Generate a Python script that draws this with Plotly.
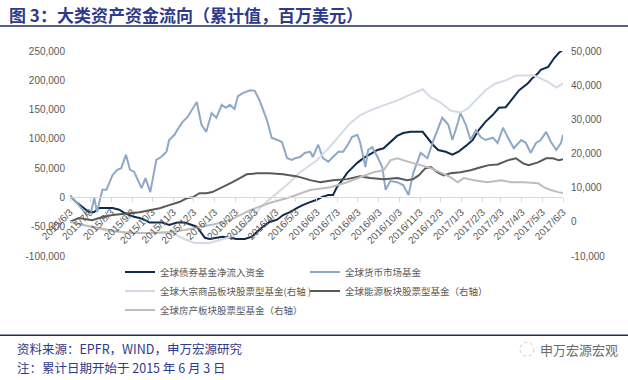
import plotly.graph_objects as go
import pandas as pd

START = pd.Timestamp("2015-06-03")

# ---------------- data (days since 2015-06-03, cumulative value) ----------------
bond_days = [0, 9, 18, 28, 36, 43, 54, 63, 73, 80, 88, 95, 103, 110, 118, 128, 137, 147, 159, 170,
             180, 188, 195, 200, 207, 217, 226, 237, 247, 259, 270, 277, 286, 296, 307, 316, 326, 337,
             345, 356, 366, 374, 383, 390, 396, 404, 411, 418, 426, 435, 445, 456, 465, 475, 485, 494,
             505, 523, 530, 538, 546, 557, 567, 576, 587, 597, 606, 616, 627, 636, 646, 657, 666, 679,
             686, 694, 698, 709, 718, 725, 731]
bond_vals = [3000, -8000, -16000, -25000, -25000, -18000, -18000, -18000, -21000, -26000, -30000,
             -33000, -35000, -38000, -43000, -43000, -43000, -47000, -43000, -43000, -47000, -50000,
             -61000, -69000, -71000, -69000, -67000, -69000, -71000, -71000, -67000, -59000, -50000,
             -42000, -38000, -30000, -25000, -18000, -13000, -8000, -4000, 1000, 4000, 4000, 18000,
             30000, 42000, 50000, 59000, 67000, 74000, 81000, 84000, 95000, 105000, 110000, 112000,
             112000, 102000, 90000, 81000, 78000, 73000, 78000, 88000, 98000, 115000, 129000, 141000,
             153000, 154000, 170000, 183000, 195000, 204000, 212000, 218000, 223000, 238000, 247000,
             252000]

mm_days = [0, 13, 25, 31, 36, 40, 48, 54, 63, 70, 76, 83, 89, 95, 106, 112, 119, 128, 135, 143, 147,
           155, 159, 167, 174, 188, 195, 202, 210, 217, 225, 231, 237, 244, 249, 256, 267, 274, 281,
           292, 299, 307, 314, 322, 329, 334, 341, 348, 356, 360, 368, 375, 383, 390, 398, 405, 412,
           418, 426, 430, 438, 442, 448, 456, 463, 468, 475, 485, 494, 502, 509, 520, 530, 539, 552,
           561, 567, 575, 579, 587, 594, 602, 609, 616, 627, 634, 642, 649, 658, 669, 676, 683, 691,
           698, 706, 713, 721, 728, 731]
mm_vals = [3000, -13000, -30000, -26000, -1000, -25000, 13000, 13000, 38000, 47000, 50000, 73000,
           47000, 44000, 16000, 33000, 9000, 64000, 69000, 78000, 98000, 107000, 115000, 129000,
           137000, 163000, 124000, 112000, 144000, 136000, 158000, 153000, 158000, 151000, 173000,
           178000, 183000, 182000, 166000, 132000, 102000, 98000, 95000, 67000, 64000, 67000, 69000,
           76000, 78000, 69000, 90000, 67000, 61000, 69000, 78000, 78000, 90000, 103000, 107000,
           95000, 52000, 81000, 86000, 69000, 52000, 13000, 28000, 26000, 21000, 4000, 42000, 76000,
           67000, 98000, 136000, 124000, 98000, 127000, 144000, 124000, 98000, 115000, 103000, 98000,
           102000, 93000, 119000, 103000, 84000, 98000, 93000, 76000, 93000, 98000, 112000, 95000,
           81000, 93000, 107000]

com_days = [0, 13, 28, 43, 58, 73, 103, 133, 155, 170, 185, 207, 222, 237, 252, 267, 286, 307, 326,
            341, 356, 366, 386, 401, 415, 430, 445, 465, 485, 502, 523, 535, 549, 564, 579, 590, 605,
            616, 631, 646, 661, 676, 688, 698, 710, 721, 731]
com_vals = [0, -700, -1500, -2100, -2700, -3000, -3300, -3300, -3600, -5100, -6200, -6200, -5300,
            -4500, -2700, 800, 4900, 8400, 11600, 14500, 16600, 18000, 22100, 25600, 28800, 31200,
            32600, 34100, 35500, 37000, 38800, 36400, 35000, 32600, 32000, 33200, 36100, 38500, 40500,
            41400, 42800, 42800, 42800, 42000, 40800, 39300, 40500]

en_days = [0, 13, 33, 48, 63, 83, 103, 118, 133, 147, 162, 173, 182, 192, 202, 211, 226, 241, 252,
           262, 277, 296, 316, 337, 356, 371, 390, 411, 430, 445, 465, 485, 500, 509, 517, 527, 535,
           545, 554, 564, 579, 594, 609, 621, 634, 649, 661, 672, 680, 694, 706, 716, 725, 731]
en_vals = [0, 1100, 500, 1400, 2000, 2500, 2800, 3400, 4000, 4900, 5800, 6900, 7200, 8400, 8400, 8700,
           10100, 11600, 12800, 13900, 14200, 14200, 13900, 13300, 12200, 11600, 12200, 12500, 13300,
           12800, 12500, 12800, 12200, 12500, 13600, 15700, 16000, 14500, 13600, 14200, 14500, 15100,
           16000, 16600, 16800, 18000, 18600, 17100, 16600, 17400, 18600, 18600, 18000, 18300]

re_days = [0, 21, 43, 66, 88, 118, 147, 170, 192, 214, 237, 267, 296, 326, 356, 386, 411, 430, 450,
           465, 475, 485, 494, 505, 520, 535, 549, 564, 575, 584, 599, 619, 639, 654, 673, 694, 703,
           713, 724, 731]
re_vals = [0, -1000, -1800, -2700, -3300, -3300, -3000, -2400, -1500, -700, 500, 3400, 5500, 7200,
           9300, 10100, 11600, 13100, 14500, 15100, 18000, 18600, 18000, 17400, 16600, 15700, 14500,
           13100, 11600, 12800, 12200, 11600, 12200, 11600, 11600, 11300, 10100, 9300, 8700, 8400]

names = ["全球债券基金净流入资金", "全球货币市场基金", "全球大宗商品板块股票型基金(右轴 )",
         "全球能源板块股票型基金（右轴）", "全球房产板块股票型基金（右轴）"]

left_ticks = [-100000, -50000, 0, 50000, 100000, 150000, 200000, 250000]
left_labels = ["-100,000", "-50,000", "0", "50,000", "100,000", "150,000", "200,000", "250,000"]
right_ticks = [-10000, 0, 10000, 20000, 30000, 40000, 50000]
right_labels = ["-10,000", "0", "10,000", "20,000", "30,000", "40,000", "50,000"]

month_ticks = [START + pd.DateOffset(months=i) for i in range(25)]
month_labels = [f"{d.year}/{d.month}/{d.day}" for d in month_ticks]

title_text = "图 3：大类资产资金流向（累计值，百万美元）"
source_text = "资料来源：EPFR，WIND，申万宏源研究"
note_text = "注：累计日期开始于 2015 年 6 月 3 日"
brand_text = "申万宏源宏观"


def dates(days):
    return [START + pd.Timedelta(days=d) for d in days]


# ---------------- layout geometry (pixels) ----------------
W, H = 628, 380
L, R, T, B = 70, 563, 51, 256.5
PW, PH = R - L, B - T


def px(x):
    return (x - L) / PW


def py(y):
    return (B - y) / PH


FONT = "Liberation Sans, Arial, Noto Sans CJK SC, sans-serif"
CJK = "Noto Sans CJK SC, Liberation Sans, sans-serif"

fig = go.Figure()
series = [
    (bond_days, bond_vals, "#0E2A4C", "y"),
    (mm_days, mm_vals, "#8EA8C6", "y"),
    (com_days, com_vals, "#D3DBE6", "y2"),
    (en_days, en_vals, "#595959", "y2"),
    (re_days, re_vals, "#BDBDBD", "y2"),
]
for (d, v, c, ax), n in zip(series, names):
    fig.add_trace(go.Scatter(x=dates(d), y=v, name=n, mode="lines",
                             line=dict(color=c, width=2), yaxis=ax))

fig.update_layout(
    width=W, height=H,
    margin=dict(l=L, r=W - R, t=T, b=H - B),
    paper_bgcolor="white", plot_bgcolor="white",
    font=dict(family=FONT, size=10, color="#595959"),
    showlegend=True,
    legend=dict(orientation="h", x=px(120), xanchor="left", y=py(258), yanchor="top",
                entrywidth=140, entrywidthmode="pixels",
                font=dict(family=CJK, size=9.5, color="#595959"),
                bgcolor="rgba(0,0,0,0)", tracegroupgap=0),
    xaxis=dict(type="date", range=[START, START + pd.DateOffset(months=24)],
               tickvals=month_ticks, ticktext=month_labels, tickangle=-45,
               tickfont=dict(size=10, color="#595959"),
               anchor="free", position=100000 / 350000,
               showline=True, linecolor="#D9D9D9", linewidth=1,
               ticks="outside", ticklen=4, tickcolor="#D9D9D9",
               showgrid=False, zeroline=False),
    yaxis=dict(range=[-100000, 250000], tickvals=left_ticks, ticktext=left_labels,
               showgrid=False, zeroline=False, showline=False,
               ticks="outside", ticklen=2, tickcolor="rgba(0,0,0,0)",
               tickfont=dict(size=10, color="#595959")),
    yaxis2=dict(range=[-10000, 50000], tickvals=right_ticks, ticktext=right_labels,
                overlaying="y", side="right", anchor="x",
                showgrid=False, zeroline=False, showline=False,
                ticks="outside", ticklen=5, tickcolor="rgba(0,0,0,0)",
                tickfont=dict(size=10, color="#595959")),
)

# title, rules, footer
fig.add_annotation(text=f"<b>{title_text}</b>", xref="paper", yref="paper",
                   x=px(7), y=py(14), xanchor="left", yanchor="middle", showarrow=False,
                   font=dict(family=CJK, size=17, color="#2E3A8C"))
fig.add_shape(type="line", xref="paper", yref="paper", x0=px(0), x1=px(628), y0=py(26), y1=py(26),
              line=dict(color="#1E2B5A", width=1.5))
fig.add_shape(type="line", xref="paper", yref="paper", x0=px(0), x1=px(628), y0=py(336), y1=py(336),
              line=dict(color="#1E2B5A", width=1.5))
fig.add_annotation(text=source_text, xref="paper", yref="paper",
                   x=px(16), y=py(349), xanchor="left", yanchor="middle",
                   showarrow=False, borderpad=0,
                   font=dict(family=CJK, size=12.5, color="#2E3A8C"))
fig.add_annotation(text=note_text, xref="paper", yref="paper",
                   x=px(16), y=py(368), xanchor="left", yanchor="middle",
                   showarrow=False, borderpad=0,
                   font=dict(family=CJK, size=12.5, color="#2E3A8C"))
fig.add_annotation(text=brand_text, xref="paper", yref="paper", x=px(620), y=py(350),
                   xanchor="right", yanchor="middle", showarrow=False,
                   font=dict(family=CJK, size=13, color="#6B6B6B"))
fig.add_shape(type="circle", xref="paper", yref="paper", x0=px(520), x1=px(534), y0=py(357), y1=py(343),
              line=dict(color="#C8C8C8", width=1, dash="dot"))

fig.write_html("out.html", config={"displayModeBar": False},
               post_script="document.body.style.margin='0';")
